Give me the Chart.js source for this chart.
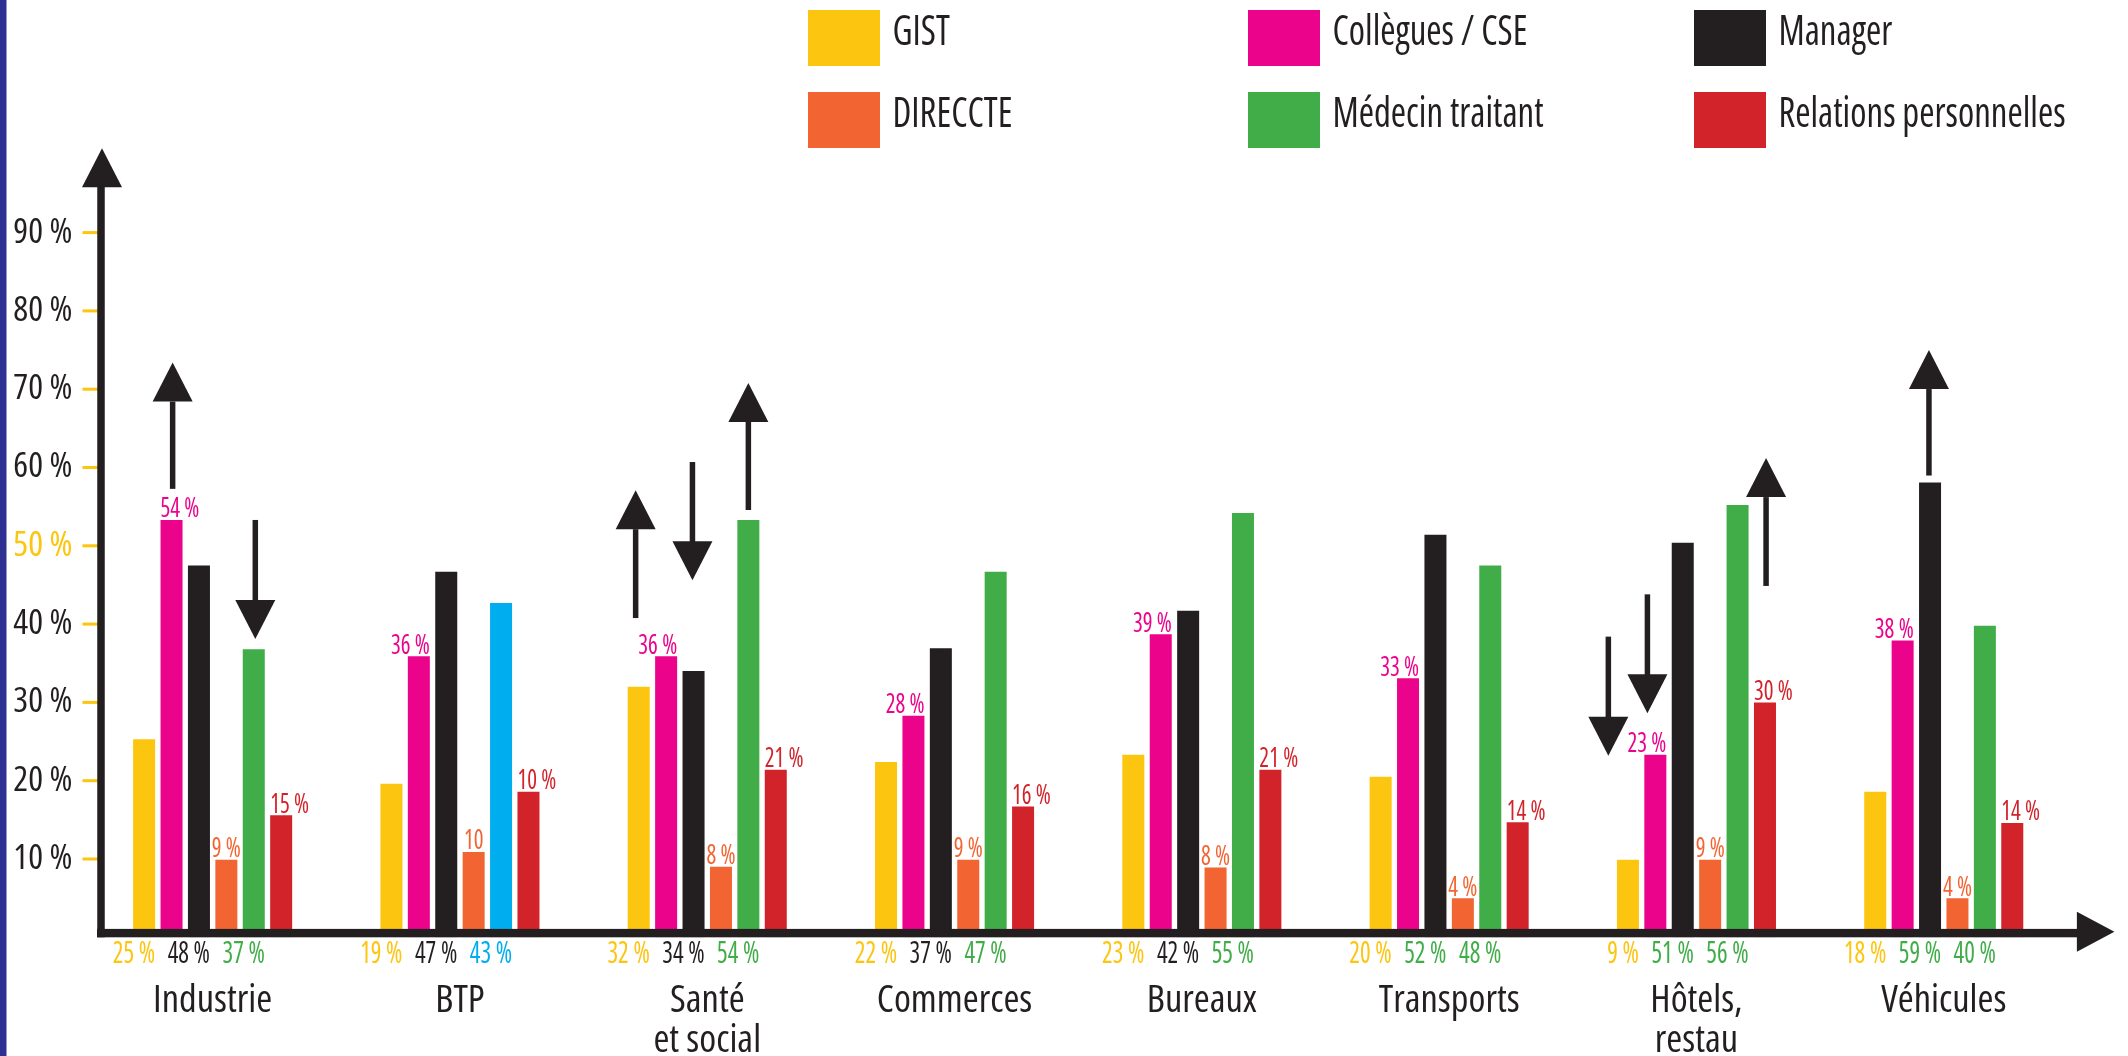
<!DOCTYPE html>
<html><head><meta charset="utf-8">
<script src="https://cdn.jsdelivr.net/npm/chart.js@4.4.1/dist/chart.umd.min.js"></script>
<style>html,body{margin:0;padding:0;background:#fff;}#wrap{position:relative;width:2128px;height:1056px;}</style>
</head><body><div id="wrap"><canvas id="c"></canvas></div>
<script>
// ---------- DATA ----------
const categories = [['Industrie'], ['BTP'], ['Santé', 'et social'], ['Commerces'], ['Bureaux'], ['Transports'], ['Hôtels,', 'restau'], ['Véhicules']];
const seriesNames = ['GIST', 'Collègues / CSE', 'Manager', 'DIRECCTE', 'Médecin traitant', 'Relations personnelles'];
const gist      = [25.3, 19.6, 32.0, 22.4, 23.3, 20.5, 9.9, 18.6];
const collegues = [53.3, 35.9, 35.9, 28.3, 38.7, 33.1, 23.3, 37.9];
const manager   = [47.5, 46.7, 34.0, 36.9, 41.7, 51.4, 50.4, 58.1];
const direccte  = [9.9, 10.9, 9.0, 9.9, 8.9, 5.0, 9.9, 5.0];
const medecin   = [36.8, 42.7, 53.3, 46.7, 54.2, 47.5, 55.2, 39.8];
const relations = [15.6, 18.6, 21.4, 16.7, 21.4, 14.7, 30.0, 14.6];
const yTicks = [10, 20, 30, 40, 50, 60, 70, 80, 90];
// printed value labels (as in the picture)
const labelsCollegues = ['54 %', '36 %', '36 %', '28 %', '39 %', '33 %', '23 %', '38 %'];
const labelsDireccte  = ['9 %', '10', '8 %', '9 %', '8 %', '4 %', '9 %', '4 %'];
const labelsRelations = ['15 %', '10 %', '21 %', '16 %', '21 %', '14 %', '30 %', '14 %'];
const labelsGistBelow    = ['25 %', '19 %', '32 %', '22 %', '23 %', '20 %', '9 %', '18 %'];
const labelsManagerBelow = ['48 %', '47 %', '34 %', '37 %', '42 %', '52 %', '51 %', '59 %'];
const labelsMedecinBelow = ['37 %', '43 %', '54 %', '47 %', '55 %', '48 %', '56 %', '40 %'];
// trend arrows: category, dataset, value of tail and tip (in %)
const arrows = [
  {cat: 0, ds: 1, dx: 0.05, from: 57.4, to: 73.4},
  {cat: 0, ds: 4, dx: 0.07, from: 53.3, to: 38.1},
  {cat: 2, ds: 0, dx: -0.14, from: 40.9, to: 57.1},
  {cat: 2, ds: 2, dx: -0.05, from: 60.7, to: 45.6},
  {cat: 2, ds: 4, dx: 0, from: 54.7, to: 70.8},
  {cat: 6, ds: 0, dx: -0.89, from: 38.4, to: 23.2},
  {cat: 6, ds: 1, dx: -0.36, from: 43.8, to: 28.6},
  {cat: 6, ds: 5, dx: 0.05, from: 45.0, to: 61.2},
  {cat: 7, ds: 2, dx: -0.05, from: 59.1, to: 75.0}
];

// ---------- STYLE ----------
const COL = {gist: '#FCC50F', coll: '#EC038C', man: '#231F20', dir: '#F26533', med: '#41AD49', rel: '#D2232A', blue: '#00AEEF', dark: '#231F20', navy: '#2E3192'};
const FAMILY = "'Open Sans', 'Roboto', sans-serif";
const medecinColors = categories.map((c, i) => i === 1 ? COL.blue : COL.med);
const managerBelowColors = categories.map((c, i) => i >= 5 ? COL.med : COL.dark);
const medecinBelowColors = categories.map((c, i) => i === 1 ? COL.blue : COL.med);
const colleguesAlign = categories.map((c, i) => i === 0 ? 'left' : 'right');

function txt(ctx, s, x, y, size, color, align, sx, weight) {
  ctx.save();
  ctx.translate(x, y);
  ctx.scale(sx, 1);
  ctx.font = (weight || 500) + ' condensed ' + size + 'px ' + FAMILY;
  try { ctx.fontStretch = 'condensed'; } catch (e) {}
  ctx.fillStyle = color;
  ctx.textAlign = align;
  ctx.textBaseline = 'alphabetic';
  ctx.fillText(s, 0, 0);
  ctx.restore();
}
function tri(ctx, cx, tipY, dir, w, h) { // vertical arrow head
  ctx.beginPath();
  ctx.moveTo(cx, tipY);
  ctx.lineTo(cx - w / 2, tipY - dir * h);
  ctx.lineTo(cx + w / 2, tipY - dir * h);
  ctx.closePath();
  ctx.fill();
}

const decor = {
  id: 'decor',
  beforeDraw(chart) { try { chart.ctx.fontStretch = 'condensed'; } catch (e) {} },
  afterDatasetsDraw(chart) {
    const {ctx, chartArea: a, scales: {x, y}} = chart;
    const y0 = y.getPixelForValue(0);
    const axX = a.left + 12;
    ctx.save();
    // left navy stripe
    ctx.fillStyle = COL.navy;
    ctx.fillRect(0, 0, 6.5, chart.height);
    // yellow ticks
    ctx.fillStyle = COL.gist;
    yTicks.forEach(v => { const py = y.getPixelForValue(v); ctx.fillRect(axX - 18.5, py - 1.5, 16, 3); });
    // y axis
    ctx.fillStyle = COL.dark;
    ctx.fillRect(axX - 3.75, a.top + 30, 7.5, y0 - a.top - 30);
    tri(ctx, axX + 1, a.top - 6, -1, 40, 39);
    // x axis
    ctx.fillRect(axX - 4, y0 - 8.4, a.right + 12 - (axX - 4), 8.4);
    ctx.beginPath();
    ctx.moveTo(a.right + 47, y0 - 5.5);
    ctx.lineTo(a.right + 9.5, y0 - 25.5);
    ctx.lineTo(a.right + 9.5, y0 + 14.5);
    ctx.closePath(); ctx.fill();

    const bar = (ds, i) => chart.getDatasetMeta(ds).data[i];
    // trend arrows
    arrows.forEach(ar => {
      const b = bar(ar.ds, ar.cat);
      const cx = b.x + ar.dx * b.width;
      const pf = y.getPixelForValue(ar.from), pt = y.getPixelForValue(ar.to);
      const dir = pt < pf ? -1 : 1; // -1 up
      const headH = 39;
      ctx.fillStyle = COL.dark;
      const shaftEnd = pt - dir * headH;
      ctx.fillRect(cx - 2.75, Math.min(pf, shaftEnd), 5.5, Math.abs(shaftEnd - pf) + 1);
      tri(ctx, cx, pt, dir, 40, headH);
    });
    // labels above bars
    categories.forEach((c, i) => {
      let b = bar(1, i);
      const ax = colleguesAlign[i] === 'left' ? b.x - b.width / 2 : b.x + b.width / 2;
      txt(ctx, labelsCollegues[i], ax, b.y - 2.5, 28, COL.coll, colleguesAlign[i], 0.82);
      b = bar(3, i);
      txt(ctx, labelsDireccte[i], b.x, b.y - 2.5, 28, COL.dir, 'center', 0.82);
      b = bar(5, i);
      txt(ctx, labelsRelations[i], b.x - b.width / 2, b.y - 2.5, 28, COL.rel, 'left', 0.82);
      // labels below axis
      const by = y0 + 25.6;
      b = bar(0, i); txt(ctx, labelsGistBelow[i], b.x + b.width / 2, by, 30.5, COL.gist, 'right', 0.82);
      b = bar(2, i); txt(ctx, labelsManagerBelow[i], b.x + b.width / 2, by, 30.5, managerBelowColors[i], 'right', 0.82);
      b = bar(4, i); txt(ctx, labelsMedecinBelow[i], b.x + b.width / 2, by, 30.5, medecinBelowColors[i], 'right', 0.82);
    });
    // legend (3 columns x 2 rows)
    const lx = [808, 1248, 1694], ly = [10, 92];
    chart.data.datasets.forEach((d, k) => {
      const bx = lx[k % 3], byy = ly[Math.floor(k / 3)];
      ctx.fillStyle = d.legendColor;
      ctx.fillRect(bx, byy, 72, 56);
      txt(ctx, d.label, bx + 84.5, byy + 34.5, 41, COL.dark, 'left', 0.9, 500);
    });
    ctx.restore();
  }
};

const ds = (label, data, color, legendColor) => ({label, data, backgroundColor: color, legendColor: legendColor || color, borderWidth: 0, categoryPercentage: 0.665, barPercentage: 0.803});

new Chart(document.getElementById('c'), {
  type: 'bar',
  data: {
    labels: categories,
    datasets: [
      ds(seriesNames[0], gist, COL.gist),
      ds(seriesNames[1], collegues, COL.coll),
      ds(seriesNames[2], manager, COL.man),
      ds(seriesNames[3], direccte, COL.dir),
      ds(seriesNames[4], medecin, medecinColors, COL.med),
      ds(seriesNames[5], relations, COL.rel)
    ]
  },
  options: {
    responsive: true, maintainAspectRatio: false, animation: false, devicePixelRatio: 1,
    layout: {padding: {top: 154.3, right: 60.6, bottom: 0, left: 0}},
    plugins: {legend: {display: false}, tooltip: {enabled: false}},
    scales: {
      x: {
        type: 'category', offset: true,
        grid: {display: false, drawTicks: false}, border: {display: false},
        ticks: {font: {family: FAMILY, size: 38.5, weight: '500 condensed', lineHeight: 1.02}, color: COL.dark, padding: 44.5, maxRotation: 0, autoSkip: false},
        afterFit(s) { s.height = 118.7; }
      },
      y: {
        min: 0, max: 100,
        grid: {display: false, drawTicks: false}, border: {display: false},
        afterBuildTicks(s) { s.ticks = yTicks.map(v => ({value: v})); },
        ticks: {
          font: {family: FAMILY, size: 35, weight: '500 condensed'}, padding: 16.5,
          color: c => (c.tick && c.tick.value === 50) ? COL.gist : COL.dark,
          callback: v => v + ' %'
        },
        afterFit(s) { s.width = 89; }
      }
    }
  },
  plugins: [decor]
});
</script></body></html>
